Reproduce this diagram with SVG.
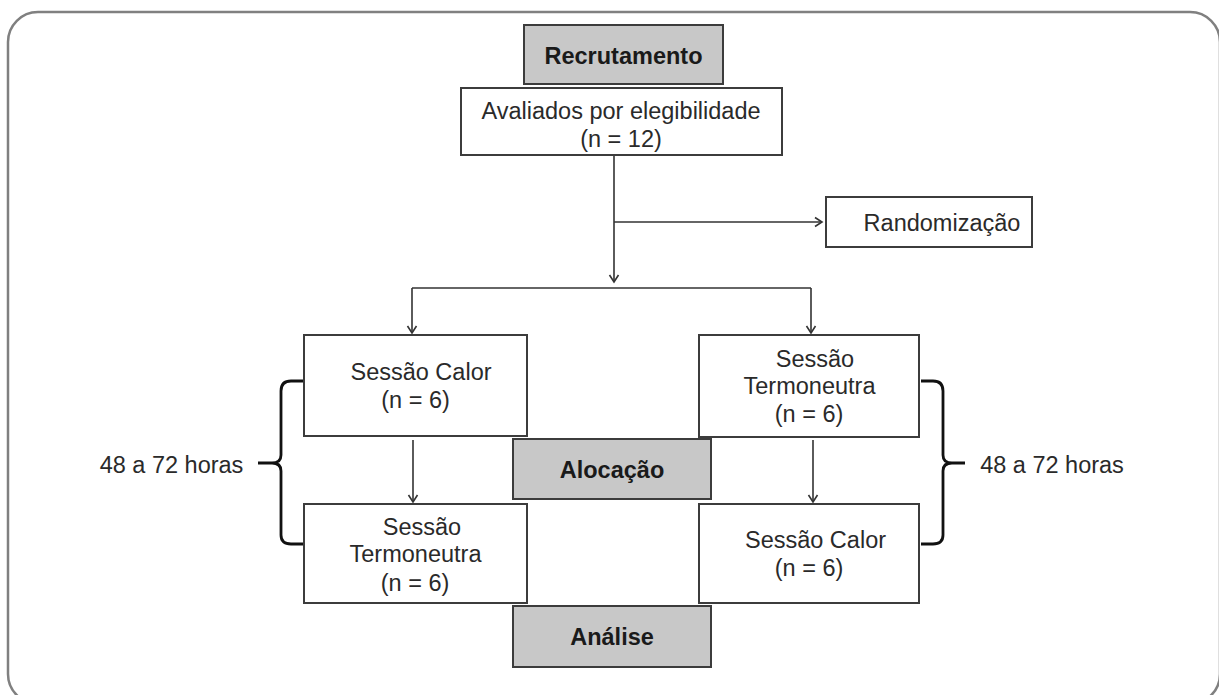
<svg xmlns="http://www.w3.org/2000/svg" width="1219" height="695" viewBox="0 0 1219 695">
<defs>
<style>
.frame{fill:#fff;stroke:#808080;stroke-width:2.5}
.box{fill:#fff;stroke:#3c3c3c;stroke-width:2}
.gbox{fill:#c8c8c8;stroke:#3c3c3c;stroke-width:2}
.t{font-family:"Liberation Sans",Arial,sans-serif;font-size:23.5px;fill:#2a2a2a;text-anchor:middle}
.b{font-weight:bold;fill:#1a1a1a}
.ln{fill:none;stroke:#333;stroke-width:1.6}
.br{fill:none;stroke:#111;stroke-width:2.8}
</style>
<marker id="ah" markerWidth="12" markerHeight="12" refX="10" refY="6" orient="auto" markerUnits="userSpaceOnUse">
<path d="M3,1.5 L10,6 L3,10.5" fill="none" stroke="#333" stroke-width="1.6"/>
</marker>
</defs>
<rect class="frame" x="8" y="12" width="1212" height="692" rx="30" ry="30"/>

<g id="connectors">
<path class="ln" d="M614,155 L614,282" marker-end="url(#ah)"/>
<path class="ln" d="M614,222 L822,222" marker-end="url(#ah)"/>
<path class="ln" d="M412,288 L811,288"/>
<path class="ln" d="M412,288 L412,333" marker-end="url(#ah)"/>
<path class="ln" d="M811,288 L811,333" marker-end="url(#ah)"/>
<path class="ln" d="M413,440 L413,502" marker-end="url(#ah)"/>
<path class="ln" d="M813,440 L813,502" marker-end="url(#ah)"/>
<path class="br" d="M303,381 L291,381 Q281,381 281,391 L281,455 Q281,463 272,463 L258,463 M272,463 Q281,463 281,471 L281,535 Q281,544 291,544 L303,544"/>
<path class="br" d="M921,381 L933,381 Q943,381 943,391 L943,455 Q943,463 952,463 L965,463 M952,463 Q943,463 943,471 L943,535 Q943,544 933,544 L921,544"/>
</g>

<g id="recrutamento">
<rect class="gbox" x="524" y="25" width="199" height="59"/>
<text class="t b" x="623.5" y="64">Recrutamento</text>
</g>
<g id="avaliados">
<rect class="box" x="461" y="88" width="321" height="67"/>
<text class="t" x="621" y="119">Avaliados por elegibilidade</text>
<text class="t" x="621" y="147">(n = 12)</text>
</g>
<g id="randomizacao">
<rect class="box" x="826" y="197" width="206" height="50"/>
<text class="t" x="942" y="231">Randomização</text>
</g>
<g id="calor1">
<rect class="box" x="304" y="335" width="223" height="101"/>
<text class="t" x="421" y="380">Sessão Calor</text>
<text class="t" x="415.5" y="408">(n = 6)</text>
</g>
<g id="termo1">
<rect class="box" x="699" y="335" width="220" height="102"/>
<text class="t" x="815" y="367">Sessão</text>
<text class="t" x="809.5" y="394">Termoneutra</text>
<text class="t" x="809" y="422">(n = 6)</text>
</g>
<g id="alocacao">
<rect class="gbox" x="513" y="439" width="198" height="60"/>
<text class="t b" x="612" y="478">Alocação</text>
</g>
<g id="termo2">
<rect class="box" x="304" y="504" width="223" height="99"/>
<text class="t" x="422" y="535">Sessão</text>
<text class="t" x="415.5" y="562">Termoneutra</text>
<text class="t" x="415" y="591">(n = 6)</text>
</g>
<g id="calor2">
<rect class="box" x="699" y="504" width="220" height="99"/>
<text class="t" x="815.5" y="548">Sessão Calor</text>
<text class="t" x="809" y="576">(n = 6)</text>
</g>
<g id="analise">
<rect class="gbox" x="513" y="606" width="198" height="61"/>
<text class="t b" x="612" y="645">Análise</text>
</g>
<g id="label-left">
<text class="t" x="171.5" y="473">48 a 72 horas</text>
</g>
<g id="label-right">
<text class="t" x="1052" y="473">48 a 72 horas</text>
</g>
</svg>
